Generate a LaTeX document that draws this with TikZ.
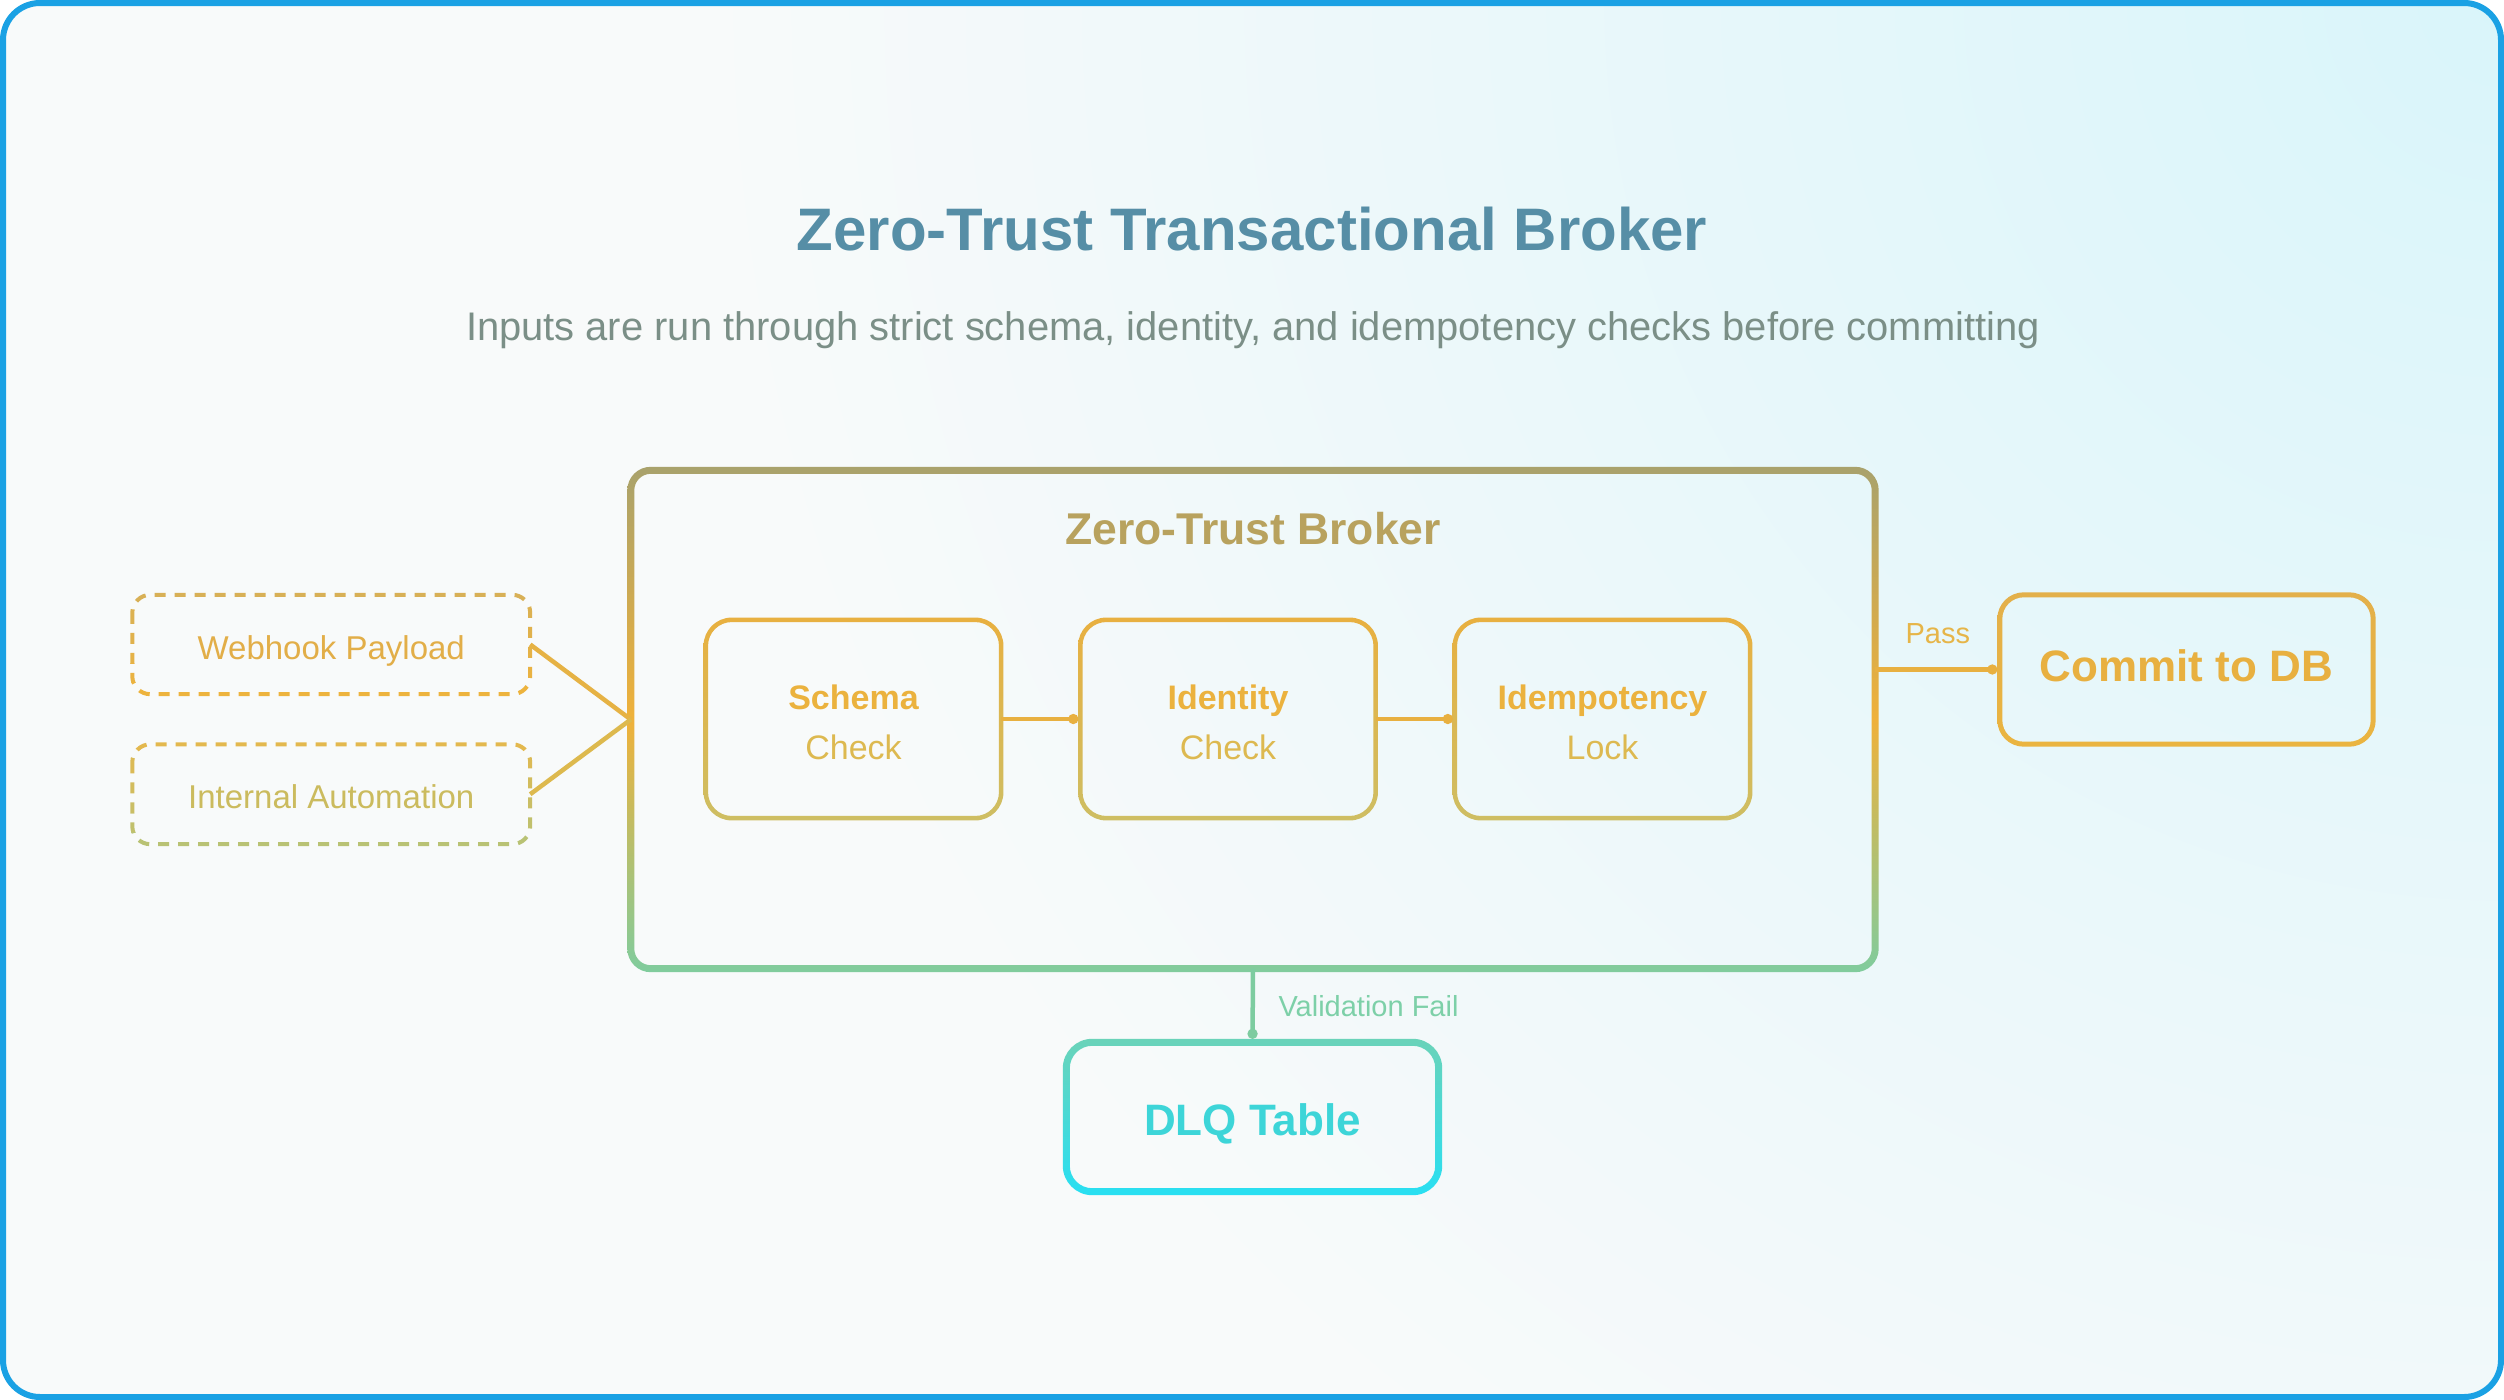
\documentclass[tikz,border=0pt]{standalone}
\usepackage{fontspec}
\setmainfont{Liberation Sans}
\usetikzlibrary{arrows.meta,calc,shadings}
\definecolor{frameblue}{HTML}{1AA1E4}
\definecolor{bgBase}{HTML}{F8FAFA}
\definecolor{bgCyan}{HTML}{D9F5FA}
\definecolor{titlec}{HTML}{568EA6}
\definecolor{subc}{HTML}{7B8F87}
\definecolor{cBrTop}{HTML}{A9A26C}
\definecolor{cBrMid}{HTML}{EFB13A}
\definecolor{cBrBot}{HTML}{80CC9D}
\definecolor{cBrLbl}{HTML}{B8A25E}
\definecolor{cInTop}{HTML}{E8B040}
\definecolor{cInBot}{HTML}{CEBE63}
\definecolor{cBold}{HTML}{EBB23E}
\definecolor{cReg}{HTML}{DDB950}
\definecolor{cCmTop}{HTML}{E3B04A}
\definecolor{cCmBot}{HTML}{EAB440}
\definecolor{cCmTxt}{HTML}{E8B040}
\definecolor{cDqTop}{HTML}{6AD3B9}
\definecolor{cDqBot}{HTML}{28DFF2}
\definecolor{cDqTxt}{HTML}{3DD5D8}
\definecolor{cWhTop}{HTML}{D8B056}
\definecolor{cWhBot}{HTML}{EDB33D}
\definecolor{cIaTop}{HTML}{E3B84E}
\definecolor{cIaBot}{HTML}{B9C274}
\definecolor{cWhTxt}{HTML}{E2AE48}
\definecolor{cIaTxt}{HTML}{CBBB5E}
\definecolor{cWhLine}{HTML}{E6B244}
\definecolor{cIaLine}{HTML}{DDB94E}
\definecolor{cOr}{HTML}{E8B040}
\definecolor{cPass}{HTML}{E6B548}
\definecolor{cGreen}{HTML}{7DCCA0}
\definecolor{cVal}{HTML}{7DD0A8}

% gradient ring round a node: name, line width, radius, top colour, bottom colour, extra
\newcommand\gradring[6]{%
  \pgfmathsetmacro\rgRo{#3+#2/2}%
  \pgfmathsetmacro\rgRi{#3-#2/2}%
  \pgfmathsetmacro\rgHw{#2/2}%
  \shade[even odd rule, top color=#4, bottom color=#5, #6, rounded corners=\rgRo pt]
    ($(#1.north west)+(-\rgHw,-\rgHw)$) rectangle ($(#1.south east)+(\rgHw,\rgHw)$)
    [rounded corners=\rgRi pt]
    ($(#1.north west)+(\rgHw,\rgHw)$) rectangle ($(#1.south east)+(-\rgHw,-\rgHw)$);
}
% dashed border drawn in colour bands: name, y top, y bottom, top colour, bottom colour
\newcommand\dashbands[5]{%
  \foreach \k in {0,...,5}{%
    \pgfmathsetmacro\dbA{#2-8+\k*(#3-#2+16)/6}%
    \pgfmathsetmacro\dbB{#2-8+(\k+1)*(#3-#2+16)/6}%
    \pgfmathtruncatemacro\dbPct{100-\k*20}%
    \begin{scope}
      \clip (0,\dbA) rectangle (2504,\dbB);
      \draw[dashedge, draw=#4!\dbPct!#5] (#1.north west) rectangle (#1.south east);
    \end{scope}
  }%
}

\begin{document}
\begin{tikzpicture}[x=1pt,y=-1pt,
  box/.style={draw=none, inner sep=0pt, rectangle},
  dashedge/.style={line width=4pt, dash pattern=on 11pt off 9pt, rounded corners=18pt},
  conn/.style={line width=4.5pt},
  dot/.style={-{Circle[length=10pt,width=10pt]}},
  innerfont/.style={font=\fontsize{34}{50}\selectfont},
  inputfont/.style={font=\fontsize{33}{40}\selectfont},
  bigbold/.style={font=\fontsize{44}{52}\selectfont\bfseries},
  lblfont/.style={font=\fontsize{29}{34}\selectfont}]
\useasboundingbox (0,0) rectangle (2504,1400);

% background and frame
\begin{scope}
  \clip[rounded corners=40pt] (0,0) rectangle (2504,1400);
  \fill[bgBase] (0,0) rectangle (2504,1400);
  \shade[inner color=bgCyan, outer color=bgBase] (2504,0) circle (1800);
\end{scope}
\draw[line width=6pt, draw=frameblue, rounded corners=37pt] (3,3) rectangle (2501,1397);

% titles
\node[anchor=base, font=\fontsize{60}{70}\selectfont\bfseries, text=titlec] (title) at (1252,250) {Zero-Trust Transactional Broker};
\node[anchor=base, font=\fontsize{39.9}{46}\selectfont, text=subc] (subtitle) at (1253,340) {Inputs are run through strict schema, identity, and idempotency checks before committing};

% nodes
\node[box, minimum width=1244pt, minimum height=498pt] (broker) at (1253,719.5) {};
\node[anchor=base, font=\fontsize{44.5}{52}\selectfont\bfseries, text=cBrLbl] (brokerlabel) at (1253,544) {Zero-Trust Broker};

\node[box, minimum width=295pt, minimum height=198pt, innerfont, align=center, text height=80pt, text depth=0pt] (schema) at (853.5,719) {{\bfseries\color{cBold}Schema}\\{\color{cReg}Check}};
\node[box, minimum width=295pt, minimum height=198pt, innerfont, align=center, text height=80pt, text depth=0pt] (identity) at (1228,719) {{\bfseries\color{cBold}Identity}\\{\color{cReg}Check}};
\node[box, minimum width=295pt, minimum height=198pt, innerfont, align=center, text height=80pt, text depth=0pt] (idem) at (1602.5,719) {{\bfseries\color{cBold}Idempotency}\\{\color{cReg}Lock}};

\node[box, minimum width=397.5pt, minimum height=99pt, inputfont, text=cWhTxt, text height=29pt, text depth=0pt] (webhook) at (331.25,644.5) {Webhook Payload};
\node[box, minimum width=397.5pt, minimum height=99.5pt, inputfont, text=cIaTxt, text height=29pt, text depth=0pt] (internal) at (331.25,794.25) {Internal Automation};

\node[box, minimum width=373pt, minimum height=149pt, bigbold, text=cCmTxt, text height=23pt, text depth=0pt] (commit) at (2186.5,669.5) {Commit to DB};
\node[box, minimum width=372pt, minimum height=149pt, bigbold, text=cDqTxt, text height=36pt, text depth=0pt] (dlq) at (1252.5,1117) {DLQ Table};

% borders
\gradring{broker}{7}{20}{cBrTop}{cBrBot}{middle color=cBrMid}
\gradring{schema}{4.5}{26}{cInTop}{cInBot}{}
\gradring{identity}{4.5}{26}{cInTop}{cInBot}{}
\gradring{idem}{4.5}{26}{cInTop}{cInBot}{}
\gradring{commit}{5}{24}{cCmTop}{cCmBot}{}
\gradring{dlq}{7}{26}{cDqTop}{cDqBot}{}
\dashbands{webhook}{595}{694}{cWhTop}{cWhBot}
\dashbands{internal}{744.5}{844}{cIaTop}{cIaBot}

% connectors
\draw[conn, draw=cWhLine] (webhook.east) -- (broker.west);
\draw[conn, draw=cIaLine] (internal.east) -- (broker.west);
\draw[conn, dot, draw=cOr, fill=cOr, shorten >=2pt] (schema.east) -- (identity.west);
\draw[conn, dot, draw=cOr, fill=cOr, shorten >=2pt] (identity.east) -- (idem.west);
\draw[conn, dot, draw=cOr, fill=cOr, shorten >=2.5pt] (commit.west -| broker.east) -- (commit.west);
\draw[conn, dot, draw=cGreen, fill=cGreen, shorten >=3.5pt] (broker.south) -- (dlq.north);

% connector labels
\node[anchor=base west, lblfont, text=cPass] (passlbl) at (1902,643) {Pass};
\node[anchor=base west, lblfont, text=cVal] (vallbl) at (1275,1016) {Validation Fail};
\end{tikzpicture}
\end{document}
